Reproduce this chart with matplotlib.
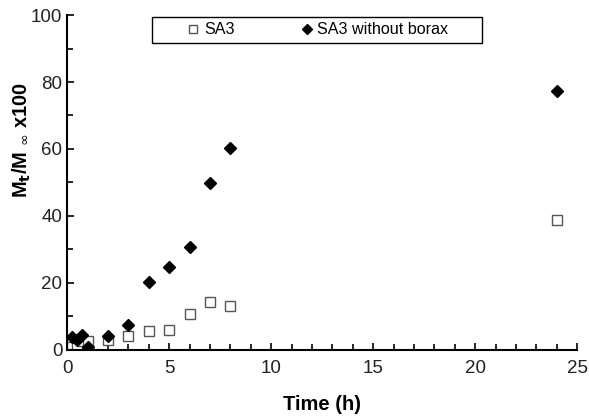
import matplotlib
matplotlib.use("Agg")
import matplotlib.pyplot as plt
from matplotlib.patches import Rectangle
from matplotlib.ticker import MultipleLocator

plt.rcParams['font.family'] = ['Liberation Sans', 'DejaVu Sans']

# SA3
sa3_time = [0.25, 0.5, 0.75, 1, 2, 3, 4, 5, 6, 7, 8, 24]
sa3_release = [1.0, 1.5, 2.5, 2.7, 2.8, 4.0, 5.7, 6.0, 10.6, 14.2, 13.1, 38.8]

# SA3 without borax
nb_time = [0.25, 0.5, 0.75, 1, 2, 3, 4, 5, 6, 7, 8, 24]
nb_release = [3.9, 3.0, 4.5, 1.0, 4.0, 7.5, 20.4, 24.8, 30.8, 49.8, 60.3, 77.3]

fig = plt.figure(figsize=(5.89, 4.18), dpi=100)
ax = fig.add_axes([0.114, 0.163, 0.866, 0.801])

ax.plot(sa3_time, sa3_release, linestyle='none', marker='s', markersize=7.5,
        markerfacecolor='white', markeredgecolor='#555555', markeredgewidth=1.0,
        label='SA3')
ax.plot(nb_time, nb_release, linestyle='none', marker='D', markersize=6.5,
        color='black', label='SA3 without borax')

ax.set_xlim(0, 25)
ax.set_ylim(0, 100)
ax.xaxis.set_major_locator(MultipleLocator(5))
ax.xaxis.set_minor_locator(MultipleLocator(1))
ax.yaxis.set_major_locator(MultipleLocator(20))
ax.yaxis.set_minor_locator(MultipleLocator(10))
ax.tick_params(which='both', direction='in', width=1.2, labelsize=13.5,
               colors='black', labelcolor='#222222')
ax.tick_params(which='major', length=5)
ax.tick_params(which='minor', length=4)
ax.tick_params(axis='x', pad=7)
ax.spines['top'].set_visible(False)
ax.spines['right'].set_visible(False)
for s in ('left', 'bottom'):
    ax.spines[s].set_linewidth(1.5)

ax.set_xlabel('Time (h)', fontsize=14.5, fontweight='bold', labelpad=13)
ax.set_ylabel(r'M$_\mathbf{t}$/M $_\infty$ x100', fontsize=14.5, fontweight='bold')
ax.yaxis.set_label_coords(-0.067, 0.627)

# legend box drawn separately to get the wide side padding
box = Rectangle((152 / 589, 1 - 43 / 418), 330 / 589, 26 / 418,
                transform=fig.transFigure, facecolor='white',
                edgecolor='black', linewidth=1.0, zorder=5, clip_on=False)
ax.add_patch(box)
leg = ax.legend(loc='center', bbox_to_anchor=(317 / 589, 1 - 30 / 418),
                bbox_transform=fig.transFigure, ncol=2, fontsize=11.6,
                frameon=False, handletextpad=0.15, columnspacing=4.0,
                handlelength=1.0, markerscale=0.8, borderpad=0.2)
leg.set_zorder(6)

fig.savefig('out.png', dpi=100)
